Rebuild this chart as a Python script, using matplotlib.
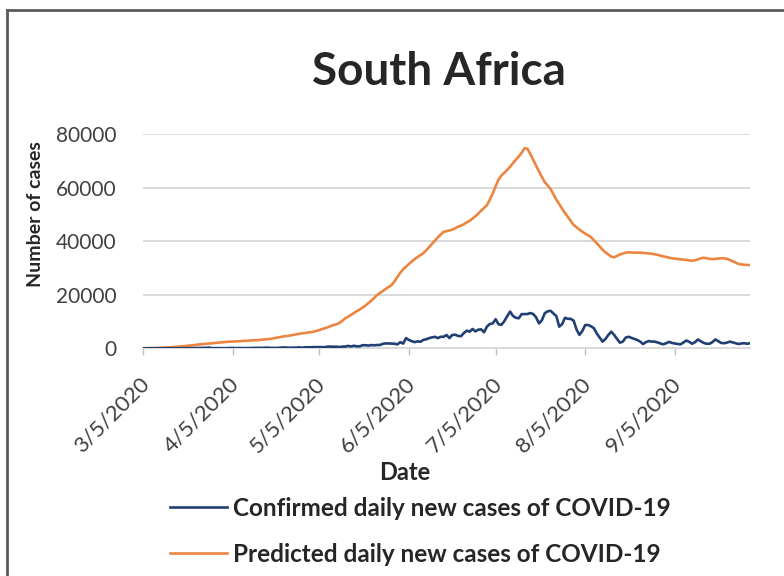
import numpy as np
import pandas as pd
import matplotlib
matplotlib.use("Agg")
import matplotlib.pyplot as plt
import matplotlib.dates as mdates
from matplotlib.lines import Line2D
from matplotlib.transforms import ScaledTranslation

plt.rcParams['font.family'] = ['Lato', 'DejaVu Sans']

# one value per day, 2020-03-05 .. 2020-10-01 (rows = weeks)
start_date = "2020-03-05"

confirmed = [
    1, 0, 1, 1, 4, 1, 6,
    3, 3, 7, 14, 13, 10, 21,
    31, 34, 56, 38, 66, 128, 152,
    155, 218, 243, 17, 83, 46, 73,
    27, 82, 96, 139, 50, 69, 96,
    52, 89, 70, 145, 143, 100, 148,
    178, 251, 148, 165, 115, 215, 285,
    318, 267, 187, 248, 247, 354, 227,
    354, 365, 385, 447, 437, 424, 410,
    424, 663, 595, 612, 595, 448, 627,
    675, 880, 683, 958, 698, 767, 1134,
    1160, 1008, 1216, 1113, 1227, 1240, 1673,
    1837, 1793, 1727, 1716, 1455, 2285, 1763,
    3800, 3100, 2642, 2312, 2594, 2430, 3148,
    3359, 3798, 4078, 4288, 3809, 4302, 4300,
    4966, 3825, 4966, 5076, 4621, 4518, 5688,
    6579, 6215, 7210, 6334, 6945, 7072, 6000,
    8124, 9063, 9300, 10853, 8971, 8773, 10134,
    12000, 13700, 12058, 11400, 11200, 12760, 12757,
    12800, 13150, 12800, 11554, 9300, 10500, 13100,
    13800, 14000, 13000, 12000, 8100, 9000, 11400,
    11000, 11000, 10300, 7000, 5000, 6500, 8700,
    8700, 8200, 7500, 5500, 4000, 2500, 3500,
    5000, 6200, 5000, 3500, 2100, 2500, 4000,
    4300, 3900, 3500, 3100, 2500, 1600, 2300,
    2700, 2500, 2500, 2200, 1800, 1500, 1900,
    2400, 2000, 1800, 1600, 1500, 2200, 2900,
    2400, 1700, 2300, 3300, 2600, 2000, 1700,
    1700, 2300, 3300, 2700, 2000, 1900, 2100,
    2500, 2200, 1900, 1600, 1800, 1900, 1700,
    1900,
]

predicted = [
    0, 0, 50, 100, 100, 150, 200,
    250, 300, 350, 400, 500, 600, 700,
    800, 900, 1000, 1100, 1200, 1400, 1500,
    1600, 1700, 1800, 1900, 2000, 2100, 2200,
    2300, 2400, 2500, 2500, 2600, 2600, 2700,
    2800, 2800, 2900, 3000, 3000, 3100, 3200,
    3300, 3400, 3500, 3700, 3900, 4100, 4300,
    4500, 4600, 4800, 5000, 5200, 5400, 5600,
    5700, 5900, 6000, 6200, 6500, 6800, 7200,
    7500, 7900, 8300, 8700, 9000, 9500, 10300,
    11200, 11800, 12500, 13200, 13900, 14500, 15200,
    16000, 16900, 17800, 18800, 19900, 20700, 21400,
    22200, 22900, 23600, 25000, 26600, 28200, 29500,
    30500, 31500, 32400, 33300, 34100, 34800, 35500,
    36600, 37800, 39000, 40200, 41400, 42500, 43500,
    43700, 44000, 44300, 44800, 45400, 45800, 46300,
    47000, 47600, 48400, 49300, 50300, 51400, 52400,
    53500, 55500, 57800, 60500, 63000, 64500, 65500,
    66600, 67800, 69100, 70400, 71600, 73000, 74700,
    74500, 72500, 70300, 68200, 66000, 64000, 62000,
    60800, 59500, 57500, 55500, 53800, 52100, 50500,
    49000, 47500, 46000, 45200, 44300, 43500, 42800,
    42200, 41500, 40300, 39200, 38000, 36800, 35800,
    35000, 34200, 34000, 34500, 35000, 35400, 35700,
    35800, 35800, 35700, 35700, 35700, 35600, 35500,
    35400, 35300, 35100, 34900, 34600, 34300, 34100,
    33800, 33600, 33500, 33300, 33200, 33100, 33000,
    32800, 32700, 32900, 33200, 33600, 33800, 33600,
    33400, 33300, 33400, 33500, 33600, 33600, 33400,
    33000, 32500, 32000, 31500, 31300, 31200, 31100,
    31100,
]

tick_dates = ["2020-03-05", "2020-04-05", "2020-05-05", "2020-06-05",
              "2020-07-05", "2020-08-05", "2020-09-05"]
tick_labels = ["3/5/2020", "4/5/2020", "5/5/2020", "6/5/2020",
               "7/5/2020", "8/5/2020", "9/5/2020"]
y_ticks = [0, 20000, 40000, 60000, 80000]

dates = pd.date_range(start_date, periods=len(confirmed), freq="D")

blue = "#203F73"
orange = "#EC8540"

fig = plt.figure(figsize=(7.84, 5.76), dpi=100)
ax = fig.add_axes([143 / 784, 1 - 348.3 / 576, (750 - 143) / 784, (348.3 - 134) / 576])

l1, = ax.plot(dates, confirmed, color=blue, lw=1.9, zorder=3)
l2, = ax.plot(dates, predicted, color=orange, lw=1.9, zorder=2)

ax.set_xlim(dates[0], dates[-1])
ax.set_ylim(0, 80000)
ax.set_yticks(y_ticks)
ax.set_yticklabels([str(v) for v in y_ticks], fontsize=15, color="#404040")
ax.yaxis.grid(True, color="#D9D9D9", lw=1.4)
ax.set_axisbelow(True)
ax.tick_params(axis="y", length=0, pad=19)

ax.set_xticks(pd.to_datetime(tick_dates))
ax.set_xticklabels(tick_labels, rotation=45, ha="right", va="center",
                   rotation_mode="anchor", fontsize=16, color="#404040")
ax.tick_params(axis="x", length=5, color="#BFBFBF", width=1, pad=18)
for lab in ax.get_xticklabels():
    lab.set_transform(lab.get_transform() + ScaledTranslation(3 / 100, 0, fig.dpi_scale_trans))

for s in ["top", "right", "left"]:
    ax.spines[s].set_visible(False)
ax.spines["bottom"].set_color("#D9D9D9")
ax.spines["bottom"].set_linewidth(1.4)

fig.text(439 / 784, 1 - 85 / 576, "South Africa", fontsize=33, ha="center",
         va="baseline", fontweight="bold", color="#262626")
fig.text(36 / 784, 1 - 214 / 576, "Number of cases", rotation=90, fontsize=14,
         fontweight="bold", ha="center", va="center", color="#262626")
fig.text(405 / 784, 1 - 480 / 576, "Date", fontsize=17, fontweight="bold",
         ha="center", va="baseline", color="#262626")

fig.legend([l1, l2], ["Confirmed daily new cases of COVID-19",
                      "Predicted daily new cases of COVID-19"],
           loc="upper left", bbox_to_anchor=(148 / 784, 1 - 475 / 576),
           frameon=False, prop={"size": 17.5, "weight": "bold"},
           handlelength=2.35, handletextpad=0.25, labelspacing=0.95,
           labelcolor="#262626")

# outer frame (only left and top edges fall inside the picture)
fig.add_artist(Line2D([7 / 784, 7 / 784], [0, 1 - 10 / 576], transform=fig.transFigure,
                      color="#5A5A5A", lw=2))
fig.add_artist(Line2D([7 / 784, 1], [1 - 10 / 576, 1 - 10 / 576], transform=fig.transFigure,
                      color="#5A5A5A", lw=2))

fig.savefig("out.png", dpi=100)
